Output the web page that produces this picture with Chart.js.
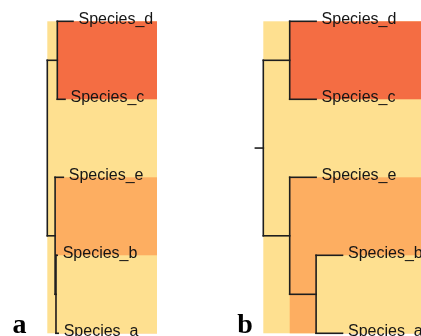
<!DOCTYPE html>
<html><head><meta charset="utf-8">
<script src="https://cdn.jsdelivr.net/npm/chart.js@4.4.1/dist/chart.umd.min.js"></script>
<style>
html,body{margin:0;padding:0;background:#fff;}
#wrap{position:relative;width:421px;height:336px;overflow:hidden;}
canvas{position:absolute;top:0;}
#ca{left:0;} #cb{left:210px;}
</style></head><body>
<div id="wrap"><canvas id="ca" width="210" height="336"></canvas><canvas id="cb" width="211" height="336"></canvas></div>
<script>
// leaves, top to bottom
const species = ['Species_d','Species_c','Species_e','Species_b','Species_a'];
const leafKeys = ['d','c','e','b','a'];
// topology ((d,c),(e,(b,a)))
const parents = {dc:'root', eba:'root', d:'dc', c:'dc', e:'eba', ba:'eba', b:'ba', a:'ba'};
// panel a: phylogram node depths (branch-length units)
const depthA = {root:0, dc:10, eba:7.8, ba:8.7, d:25.7, c:17.7, e:16, b:9.9, a:10.9};
// panel b: cladogram node depths (levels)
const depthB = {root:0, dc:1, eba:1, ba:2, d:2, c:2, e:2, b:3, a:3};
const rootStubB = -0.3;
// shaded clades (nested, drawn in order)
const cladeKeys = ['root','dc','eba','ba'];
const cladeColors = ['#FEE090','#F46D43','#FDAE61','#FEE090'];
const panelLetters = ['a','b'];

// ---- derived tree geometry (in data units) ----
const children = {};
Object.keys(parents).forEach(k => { (children[parents[k]] = children[parents[k]] || []).push(k); });
const row = {};
leafKeys.forEach((k, i) => row[k] = i);
function nodeY(k){ if (k in row) return row[k]; const ys = children[k].map(nodeY); return (Math.min(...ys)+Math.max(...ys))/2; }
function leavesOf(k){ return (k in row) ? [row[k]] : children[k].flatMap(leavesOf); }

function segments(depth, stub){
  const segs = [];
  Object.keys(parents).forEach(k => {
    const y = nodeY(k);
    segs.push([{x:depth[parents[k]], y}, {x:depth[k], y}]);
  });
  Object.keys(children).forEach(k => {
    const ys = children[k].map(nodeY);
    segs.push([{x:depth[k], y:Math.min(...ys)}, {x:depth[k], y:Math.max(...ys)}]);
  });
  if (stub !== null) segs.push([{x:stub, y:nodeY('root')}, {x:depth.root, y:nodeY('root')}]);
  return segs;
}

function makeChart(id, depth, stub, xMin, xMax, shadeRight, letter, letterX){
  const segs = segments(depth, stub);
  const datasets = segs.map(s => ({
    data: s, showLine: true, borderColor: '#1e1e1e', borderWidth: 1.6,
    borderCapStyle: 'square', pointRadius: 0, fill: false, clip: false
  }));
  const treePlugin = {
    id: 'tree' + id,
    beforeDatasetsDraw(chart){
      const ctx = chart.ctx, xs = chart.scales.x, ys = chart.scales.y;
      ctx.save();
      cladeKeys.forEach((k, i) => {
        const rows = leavesOf(k);
        const x0 = xs.getPixelForValue(depth[k]), x1 = xs.getPixelForValue(shadeRight);
        const y0 = ys.getPixelForValue(Math.min(...rows)), y1 = ys.getPixelForValue(Math.max(...rows));
        ctx.fillStyle = cladeColors[i];
        ctx.fillRect(x0, y0, x1 - x0, y1 - y0);
      });
      ctx.restore();
    },
    afterDatasetsDraw(chart){
      const ctx = chart.ctx, xs = chart.scales.x, ys = chart.scales.y;
      ctx.save();
      ctx.fillStyle = '#151515';
      ctx.font = '16px "Liberation Sans", Arial, sans-serif';
      ctx.textBaseline = 'alphabetic';
      leafKeys.forEach((k, i) => {
        ctx.fillText(species[i], xs.getPixelForValue(depth[k]) + 5.5, ys.getPixelForValue(row[k]) + 2.5);
      });
      ctx.fillStyle = '#000';
      ctx.font = 'bold 28px "Liberation Serif", "Times New Roman", serif';
      ctx.fillText(letter, letterX, 333);
      ctx.restore();
    }
  };
  return new Chart(document.getElementById(id), {
    type: 'scatter',
    data: { datasets },
    options: {
      responsive: false, animation: false, events: [],
      layout: { padding: 0 },
      plugins: { legend: { display: false }, tooltip: { enabled: false } },
      scales: {
        x: { type: 'linear', display: false, min: xMin, max: xMax },
        y: { type: 'linear', display: false, reverse: true, min: -0.2731, max: 4.0346 }
      }
    },
    plugins: [treePlugin]
  });
}

makeChart('ca', depthA, null, -47.3, 210 - 47.3, 109.7, panelLetters[0], 12.5);
makeChart('cb', depthB, rootStubB, -2.019, 5.973, 20, panelLetters[1], 27.3);
</script>
</body></html>
